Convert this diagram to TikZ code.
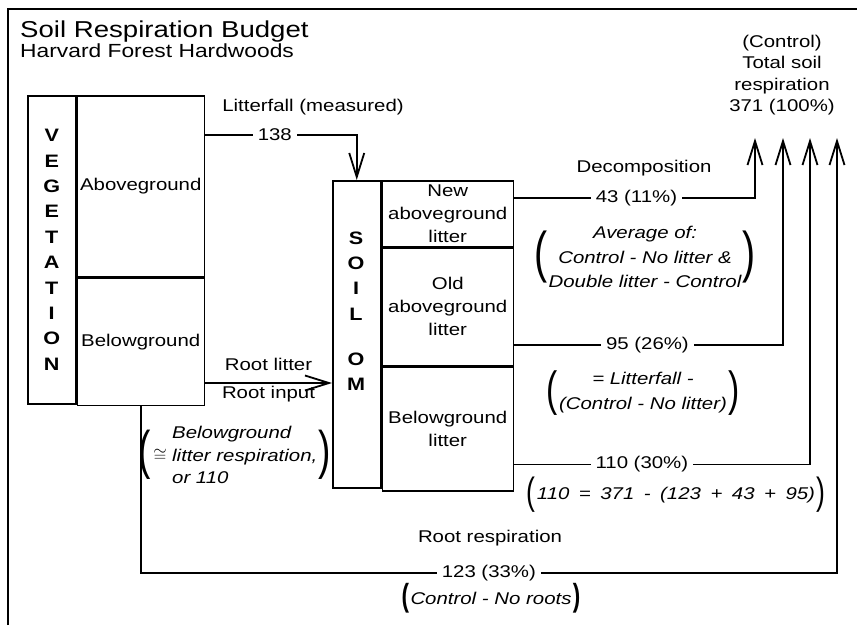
\documentclass[tikz,border=0pt]{standalone}
\usepackage{fontspec}
\setmainfont{Liberation Sans}[FakeStretch=1.2]
\newfontfamily\parfam{Liberation Sans}[FakeStretch=0.7]
\usetikzlibrary{arrows.meta, positioning}
\newcommand\lbfont{\fontsize{17}{23}\selectfont}
\newcommand\ttlfont{\fontsize{23}{27}\selectfont}
\newcommand\subfont{\fontsize{19}{23}\selectfont}
\newcommand\letfont{\fontsize{18}{25.4}\selectfont\bfseries}
\tikzset{
  box/.style={rectangle, draw, line width=1.5pt, inner sep=0pt,
              align=center, font=\lbfont},
  lbl/.style={align=center, font=\lbfont, inner sep=1pt},
  note/.style={align=center, font=\lbfont\itshape, inner sep=1pt},
  cut/.style={lbl, fill=white, inner xsep=5pt},
  flow/.style={line width=1.5pt},
  arr/.style={flow, -{Straight Barb[length=24pt, width=15pt, line width=1.8pt]}},
  paren/.style={font=\parfam\fontsize{#1}{#1}\selectfont, inner sep=0pt},
  bparen/.style={font=\parfam\bfseries\fontsize{#1}{#1}\selectfont, inner sep=0pt},
  letters/.style={align=center, font=\letfont, inner sep=0pt},
}

\begin{document}
\begin{tikzpicture}[x=1pt, y=-1pt]
  \useasboundingbox (0,0) rectangle (857,625);
  \draw[line width=2.5pt] (8,625) -- (8,9) -- (857,9);

  % title
  \node[anchor=base west, font=\ttlfont, inner sep=0pt] (ttl) at (20,37) {Soil Respiration Budget};
  \node[anchor=base west, font=\subfont, inner sep=0pt] (sub) at (20,57.5) {Harvard Forest Hardwoods};

  % vegetation
  \node[box, minimum width=48pt, minimum height=308pt, anchor=north west] (vcol) at (27,95) {};
  \node[box, minimum width=127pt, minimum height=181pt, anchor=north west] (vab) at (vcol.north east) {Aboveground};
  \node[box, minimum width=127pt, minimum height=127pt, anchor=north] (vbe) at (vab.south) {Belowground};
  \node[letters] (vtxt) at (vcol.center) {V\\E\\G\\E\\T\\A\\T\\I\\O\\N};

  % soil organic matter
  \node[box, minimum width=48pt, minimum height=307pt, anchor=north west] (scol) at (332,180) {};
  \node[box, minimum width=131pt, minimum height=66pt, anchor=north west] (newlit) at (scol.north east) {New\\aboveground\\litter};
  \node[box, minimum width=131pt, minimum height=117pt, anchor=north] (oldlit) at (newlit.south) {Old\\aboveground\\litter};
  \node[box, minimum width=131pt, minimum height=124pt, anchor=north] (belit) at (oldlit.south) {Belowground\\litter};
  \node[letters] (stxt) at (356,276) {S\\O\\I\\L};
  \node[letters] (otxt) at (356,371.5) {O\\M};

  % total
  \node[lbl, font=\fontsize{17}{21.5}\selectfont] (tot) at (782,75) {(Control)\\Total soil\\respiration\\371 (100\%)};
  \coordinate (t1) at (755,138);
  \coordinate (t2) at (783,138);
  \coordinate (t3) at (810,138);
  \coordinate (t4) at (837,138);

  % litterfall
  \draw[arr] (vab.north east) ++(0,40) -| node[cut, pos=0.23]{138} (scol.north);
  \node[lbl] (lfl) at (313,107) {Litterfall (measured)};

  % root litter
  \draw[arr] (vbe.south east) ++(0,-23) coordinate (rl) -- (rl -| scol.west)
    node[lbl, midway, above=11pt]{Root litter}
    node[lbl, midway, below=1pt]{Root input};

  % root respiration
  \draw[arr] (vbe.south) -- ++(0,167) coordinate (rr)
    -- node[cut, pos=0.5]{123 (33\%)} (rr -| t4) -- (t4);
  \node[lbl] (rrl) at (490,538) {Root respiration};
  \node[note] (nor) at (491,598) {Control - No roots};
  \node[bparen=32, left=0pt of nor] {(};
  \node[bparen=32, right=0pt of nor] {)};

  % decomposition
  \draw[arr] (newlit.north east) ++(0,18) -| node[cut, pos=0.254]{43 (11\%)} (t1);
  \node[lbl] (dec) at (644,168) {Decomposition};
  \draw[arr] (oldlit.south east) ++(0,-21) -| node[cut, pos=0.248]{95 (26\%)} (t2);
  \draw[arr] (belit.south east) ++(0,-27) -| node[cut, pos=0.216]{110 (30\%)} (t3);

  % notes
  \node[note, font=\fontsize{17}{24.5}\selectfont\itshape] (avg) at (645,257) {Average of:\\Control - No litter \&\\Double litter - Control};
  \node[paren=56, left=0pt of avg] {(};
  \node[paren=56, right=0pt of avg] {)};
  \node[note, font=\fontsize{17}{25}\selectfont\itshape] (lfn) at (643,393) {= Litterfall -\\(Control - No litter)};
  \node[paren=48, left=0pt of lfn] {(};
  \node[paren=48, right=0pt of lfn] {)};
  \node[note] (eqn) at (676,495) {\spaceskip 9.5pt\relax 110 = 371 - (123 + 43 + 95)};
  \node[paren=38, left=0pt of eqn] {(};
  \node[paren=38, right=0pt of eqn] {)};
  \node[note, align=left, anchor=west, font=\fontsize{17}{22.5}\selectfont\itshape] (blr) at (171,455) {Belowground\\litter respiration,\\or 110};
  \node[lbl, left=4pt of blr, inner sep=0pt] (apx) {$\cong$};
  \node[paren=53, left=2pt of apx] {(};
  \node[paren=53, right=0pt of blr] {)};
\end{tikzpicture}
\end{document}
